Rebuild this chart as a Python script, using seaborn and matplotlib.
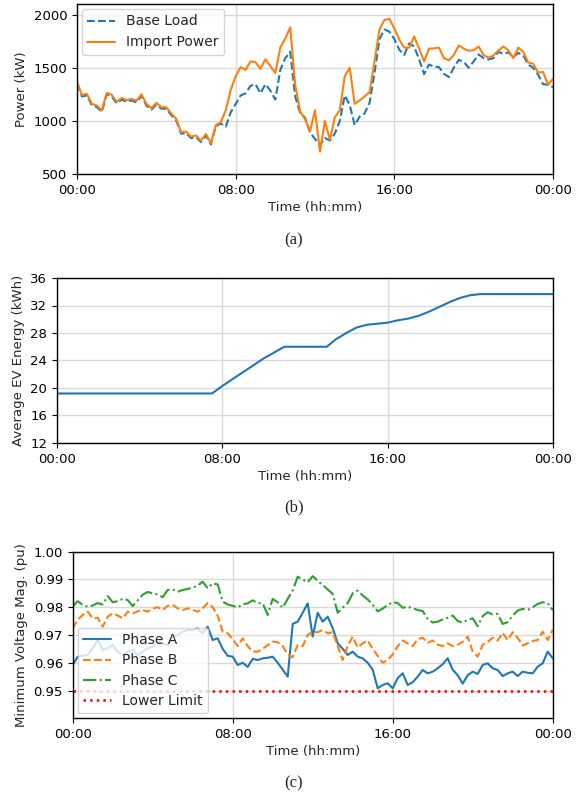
import numpy as np
import pandas as pd
import matplotlib
matplotlib.use("Agg")
import matplotlib.pyplot as plt
import seaborn as sns

# ---------------- data ----------------
# 15-minute grid over one day (hours)
hours = np.arange(97) * 0.25

base_load = [1350, 1230, 1240, 1145, 1130, 1085, 1250, 1230, 1165, 1200, 1180, 1192,
             1175, 1235, 1145, 1105, 1155, 1115, 1115, 1055, 1005, 880, 885, 838,
             848, 800, 862, 778, 950, 975, 945, 1080, 1160, 1239, 1260, 1330,
             1345, 1260, 1345, 1285, 1200, 1480, 1590, 1650, 1230, 1075, 1030, 890,
             830, 770, 840, 815, 880, 1000, 1239, 1150, 960, 1040, 1070, 1170,
             1450, 1770, 1860, 1840, 1770, 1670, 1620, 1730, 1700, 1580, 1440, 1530,
             1510, 1506, 1443, 1412, 1500, 1575, 1555, 1500, 1560, 1625, 1590, 1578,
             1590, 1650, 1630, 1645, 1600, 1640, 1616, 1530, 1500, 1435, 1345, 1340,
             1318]

import_power = [1365, 1245, 1255, 1160, 1145, 1097, 1264, 1245, 1180, 1215, 1195, 1207,
                1190, 1250, 1160, 1120, 1170, 1129, 1129, 1070, 1020, 895, 899, 852,
                862, 814, 877, 790, 960, 987, 1100, 1290, 1420, 1506, 1480, 1560,
                1553, 1490, 1580, 1515, 1450, 1690, 1775, 1880, 1340, 1090, 1015, 900,
                1100, 711, 1000, 820, 1034, 1100, 1420, 1500, 1160, 1192, 1230, 1270,
                1560, 1860, 1950, 1960, 1870, 1765, 1690, 1690, 1795, 1680, 1560, 1680,
                1682, 1690, 1590, 1569, 1620, 1710, 1680, 1660, 1665, 1700, 1620, 1595,
                1615, 1663, 1700, 1665, 1590, 1690, 1650, 1550, 1538, 1455, 1460, 1340,
                1396]

ev_hours = [0, 7.5, 8.0, 9.0, 10.0, 11.0, 13.05, 13.5, 14.0, 14.5, 15.0, 15.5, 16.0,
            16.5, 17.0, 17.5, 18.0, 18.5, 19.0, 19.5, 20.0, 20.5, 24]
ev_energy = [19.2, 19.2, 20.3, 22.3, 24.3, 26.0, 26.0, 27.1, 28.0, 28.8, 29.2, 29.35,
             29.5, 29.85, 30.1, 30.5, 31.1, 31.8, 32.5, 33.1, 33.5, 33.66, 33.66]

phase_a = [0.9592, 0.9622, 0.9625, 0.9628, 0.9652, 0.9682, 0.9648, 0.9652, 0.9664, 0.9640,
           0.9628, 0.9640, 0.9646, 0.9628, 0.9640, 0.9652, 0.9658, 0.9675, 0.9670, 0.9664,
           0.9694, 0.9700, 0.9712, 0.9718, 0.9718, 0.9724, 0.9706, 0.9730, 0.9682, 0.9688,
           0.9650, 0.9625, 0.9622, 0.9592, 0.9600, 0.9585, 0.9614, 0.9610, 0.9616, 0.9618,
           0.9622, 0.9600, 0.9575, 0.9550, 0.9740, 0.9748, 0.9780, 0.9814, 0.9694, 0.9780,
           0.9748, 0.9766, 0.9725, 0.9670, 0.9650, 0.9628, 0.9640, 0.9622, 0.9616, 0.9600,
           0.9575, 0.9508, 0.9520, 0.9526, 0.9508, 0.9545, 0.9562, 0.9520, 0.9530, 0.9550,
           0.9574, 0.9562, 0.9568, 0.9580, 0.9595, 0.9616, 0.9575, 0.9555, 0.9525, 0.9555,
           0.9568, 0.9560, 0.9592, 0.9598, 0.9580, 0.9574, 0.9552, 0.9562, 0.9568, 0.9552,
           0.9568, 0.9564, 0.9562, 0.9586, 0.9598, 0.9640, 0.9616]

phase_b = [0.9724, 0.9755, 0.9772, 0.9784, 0.9760, 0.9762, 0.9730, 0.9766, 0.9778, 0.9770,
           0.9760, 0.9784, 0.9778, 0.9785, 0.9790, 0.9784, 0.9795, 0.9800, 0.9790, 0.9805,
           0.9808, 0.9796, 0.9790, 0.9796, 0.9790, 0.9784, 0.9796, 0.9815, 0.9800, 0.9770,
           0.9712, 0.9706, 0.9685, 0.9660, 0.9688, 0.9660, 0.9640, 0.9640, 0.9650, 0.9664,
           0.9676, 0.9674, 0.9660, 0.9630, 0.9620, 0.9664, 0.9660, 0.9700, 0.9712, 0.9710,
           0.9718, 0.9706, 0.9710, 0.9660, 0.9610, 0.9660, 0.9694, 0.9655, 0.9670, 0.9680,
           0.9650, 0.9625, 0.9600, 0.9610, 0.9630, 0.9660, 0.9680, 0.9670, 0.9660, 0.9685,
           0.9690, 0.9672, 0.9680, 0.9665, 0.9660, 0.9670, 0.9660, 0.9665, 0.9675, 0.9694,
           0.9640, 0.9622, 0.9665, 0.9675, 0.9690, 0.9680, 0.9708, 0.9682, 0.9710, 0.9690,
           0.9662, 0.9670, 0.9678, 0.9682, 0.9712, 0.9682, 0.9718]

phase_c = [0.9802, 0.9822, 0.9808, 0.9802, 0.9806, 0.9815, 0.9810, 0.9840, 0.9818, 0.9822,
           0.9830, 0.9826, 0.9804, 0.9825, 0.9845, 0.9855, 0.9850, 0.9846, 0.9836, 0.9862,
           0.9864, 0.9856, 0.9862, 0.9866, 0.9870, 0.9878, 0.9892, 0.9868, 0.9886, 0.9882,
           0.9820, 0.9810, 0.9805, 0.9800, 0.9810, 0.9814, 0.9825, 0.9815, 0.9814, 0.9772,
           0.9830, 0.9818, 0.9798, 0.9830, 0.9860, 0.9910, 0.9900, 0.9890, 0.9912, 0.9895,
           0.9880, 0.9864, 0.9848, 0.9780, 0.9798, 0.9815, 0.9850, 0.9860, 0.9842, 0.9828,
           0.9810, 0.9785, 0.9795, 0.9808, 0.9818, 0.9815, 0.9798, 0.9802, 0.9796, 0.9790,
           0.9786, 0.9758, 0.9745, 0.9748, 0.9756, 0.9762, 0.9770, 0.9750, 0.9745, 0.9755,
           0.9760, 0.9732, 0.9768, 0.9782, 0.9774, 0.9776, 0.9740, 0.9746, 0.9770, 0.9788,
           0.9794, 0.9790, 0.9800, 0.9812, 0.9818, 0.9815, 0.9790]

lower_limit = 0.95

time_ticks = [0, 8, 16, 24]
time_labels = ["00:00", "08:00", "16:00", "00:00"]

# ---------------- plotting ----------------
sns.set_style("ticks")
plt.rcParams["font.family"] = ["DejaVu Sans"]
FS = 9.5
LFS = 10

W, H = 584, 799
fig = plt.figure(figsize=(W / 100, H / 100), dpi=100)


def axes_px(left, top, right, bottom):
    return fig.add_axes([left / W, 1 - bottom / H, (right - left) / W, (bottom - top) / H])


def style(ax):
    ax.set_xlim(0, 24)
    ax.set_xticks(time_ticks)
    ax.set_xticklabels(time_labels)
    ax.grid(True, color="0.85", linewidth=1.0)
    ax.set_axisbelow(True)
    for s in ax.spines.values():
        s.set_color("black")
        s.set_linewidth(1.0)
    ax.tick_params(labelsize=FS, direction="out", length=3.5, width=0.8, colors="black")
    ax.set_xlabel("Time (hh:mm)", fontsize=FS, labelpad=3)


pal = sns.color_palette("tab10")

# (a)
ax1 = axes_px(77, 4, 553, 174)
df_a = pd.DataFrame({"h": hours, "base": base_load, "imp": import_power})
sns.lineplot(data=df_a, x="h", y="base", ax=ax1, color=pal[0], linestyle="--",
             linewidth=1.5, label="Base Load")
sns.lineplot(data=df_a, x="h", y="imp", ax=ax1, color=pal[1], linestyle="-",
             linewidth=1.5, label="Import Power")
ax1.set_ylim(500, 2100)
ax1.set_yticks([500, 1000, 1500, 2000])
style(ax1)
ax1.set_ylabel("Power (kW)", fontsize=FS)
ax1.legend(loc="upper left", fontsize=LFS, framealpha=0.8, edgecolor="0.8",
           handlelength=2.0, borderaxespad=0.35)

# (b)
ax2 = axes_px(57, 278, 553, 443)
df_b = pd.DataFrame({"h": ev_hours, "e": ev_energy})
sns.lineplot(data=df_b, x="h", y="e", ax=ax2, color=pal[0], linewidth=1.5)
ax2.set_ylim(12, 36)
ax2.set_yticks(range(12, 37, 4))
style(ax2)
ax2.set_ylabel("Average EV Energy (kWh)", fontsize=FS)

# (c)
ax3 = axes_px(72.7, 551.7, 552.7, 718.3)
df_c = pd.DataFrame({"h": hours, "a": phase_a, "b": phase_b, "c": phase_c})
sns.lineplot(data=df_c, x="h", y="a", ax=ax3, color=pal[0], linestyle="-",
             linewidth=1.5, label="Phase A")
sns.lineplot(data=df_c, x="h", y="b", ax=ax3, color=pal[1], linestyle="--",
             linewidth=1.5, label="Phase B")
sns.lineplot(data=df_c, x="h", y="c", ax=ax3, color=pal[2], linestyle="-.",
             linewidth=1.5, label="Phase C")
ax3.axhline(lower_limit, color="red", linestyle=":", linewidth=1.8, label="Lower Limit")
ax3.set_ylim(0.94, 1.0)
ax3.set_yticks([0.95, 0.96, 0.97, 0.98, 0.99, 1.00])
ax3.set_yticklabels([f"{v:.2f}" for v in [0.95, 0.96, 0.97, 0.98, 0.99, 1.00]])
style(ax3)
ax3.set_ylabel("Minimum Voltage Mag. (pu)", fontsize=FS)
ax3.legend(loc="lower left", fontsize=LFS, framealpha=0.8, edgecolor="0.8",
           handlelength=2.0, borderaxespad=0.35, labelspacing=0.45)

for lab, y in [("(a)", 240), ("(b)", 507), ("(c)", 783)]:
    fig.text(294 / W, 1 - y / H, lab, ha="center", va="center",
             family="Liberation Serif", fontsize=12)

fig.savefig("out.png", dpi=100)
